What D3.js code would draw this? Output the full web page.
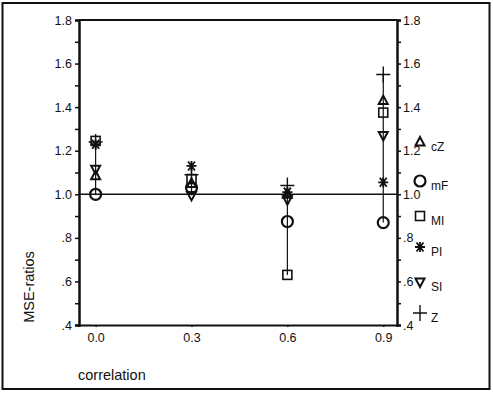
<!DOCTYPE html>
<html>
<head>
<meta charset="utf-8">
<script src="https://cdn.jsdelivr.net/npm/d3@7"></script>
<style>
  body { margin: 0; background: #fff; }
  text { font-family: "Liberation Sans", Arial, sans-serif; fill: #111; }
</style>
</head>
<body>
<div id="chart"></div>
<script>
const correlations = [0.0, 0.3, 0.6, 0.9];
const seriesNames = ['cZ', 'mF', 'MI', 'PI', 'SI', 'Z'];
const cZ = [1.085, 1.05, 1.0, 1.43];
const mF = [1.0, 1.03, 0.875, 0.87];
const MI = [1.245, 1.07, 0.63, 1.375];
const PI = [1.23, 1.13, 1.01, 1.055];
const SI = [1.115, 0.995, 0.975, 1.27];
const Z = [1.24, 1.09, 1.04, 1.55];
const yTicks = [0.4, 0.6, 0.8, 1.0, 1.2, 1.4, 1.6, 1.8];
const yMinor = [0.5, 0.7, 0.9, 1.1, 1.3, 1.5, 1.7];

const seriesValues = { cZ, mF, MI, PI, SI, Z };

const W = 493, H = 393;
const svg = d3.select('#chart').append('svg')
  .attr('width', W).attr('height', H);

// outer frame
svg.append('rect')
  .attr('x', 2.5).attr('y', 3).attr('width', 487).attr('height', 386)
  .attr('fill', 'none').attr('stroke', '#111').attr('stroke-width', 2);

const mLeft = 79, mRight = 397, mTop = 20, mBottom = 325;

const x = d3.scaleLinear().domain([-0.052, 0.943]).range([mLeft, mRight]);
const y = d3.scaleLinear().domain([0.4, 1.8]).range([mBottom, mTop]);

const fmt = v => v >= 1 ? v.toFixed(1) : v.toFixed(1).replace(/^0/, '');

// left axis
svg.append('g').attr('transform', `translate(${mLeft},0)`)
  .call(d3.axisLeft(y).tickValues(yTicks).tickFormat(fmt).tickSize(4).tickPadding(3));
svg.append('g').attr('transform', `translate(${mLeft},0)`)
  .call(d3.axisLeft(y).tickValues(yMinor).tickFormat('').tickSize(4));
// right axis
svg.append('g').attr('transform', `translate(${mRight},0)`)
  .call(d3.axisRight(y).tickValues(yTicks).tickFormat(fmt).tickSize(4).tickPadding(2));
svg.append('g').attr('transform', `translate(${mRight},0)`)
  .call(d3.axisRight(y).tickValues(yMinor).tickFormat('').tickSize(4));
// bottom axis
svg.append('g').attr('transform', `translate(0,${mBottom})`)
  .call(d3.axisBottom(x).tickValues(correlations).tickFormat(d3.format('.1f')).tickSize(2).tickPadding(6));

svg.selectAll('.domain').attr('stroke', '#111').attr('stroke-width', 2);
svg.selectAll('.tick line').attr('stroke', '#111').attr('stroke-width', 1.5);
svg.selectAll('.tick text').attr('font-size', 12.5).attr('font-family', '"Liberation Sans", Arial, sans-serif').attr('fill', '#111');

// top line
svg.append('line').attr('x1', mLeft).attr('x2', mRight).attr('y1', mTop).attr('y2', mTop)
  .attr('stroke', '#111').attr('stroke-width', 2);

// reference line at 1.0
svg.append('line').attr('x1', mLeft).attr('x2', mRight).attr('y1', y(1)).attr('y2', y(1))
  .attr('stroke', '#111').attr('stroke-width', 1.5);

// range lines
correlations.forEach((c, i) => {
  const vals = seriesNames.map(n => seriesValues[n][i]);
  svg.append('line')
    .attr('x1', x(c)).attr('x2', x(c))
    .attr('y1', y(d3.min(vals))).attr('y2', y(d3.max(vals)))
    .attr('stroke', '#111').attr('stroke-width', 1.2);
});

function marker(g, name) {
  const s = '#111';
  if (name === 'cZ') {
    g.append('path').attr('d', 'M0,-5 L4.5,3.5 L-4.5,3.5 Z').attr('fill', 'none').attr('stroke', s).attr('stroke-width', 2);
  } else if (name === 'SI') {
    g.append('path').attr('d', 'M0,5 L4.5,-3.5 L-4.5,-3.5 Z').attr('fill', 'none').attr('stroke', s).attr('stroke-width', 2);
  } else if (name === 'mF') {
    g.append('circle').attr('r', 5.5).attr('fill', 'none').attr('stroke', s).attr('stroke-width', 2.2);
  } else if (name === 'MI') {
    g.append('rect').attr('x', -4.5).attr('y', -4.5).attr('width', 9).attr('height', 9).attr('fill', 'none').attr('stroke', s).attr('stroke-width', 1.6);
  } else if (name === 'PI') {
    g.append('path').attr('d', 'M-5,0 L5,0 M-3.5,-4.5 L3.5,4.5 M3.5,-4.5 L-3.5,4.5 M0,-5 L0,5').attr('stroke', s).attr('stroke-width', 1.8);
  } else if (name === 'Z') {
    g.append('path').attr('d', 'M-7,0 L7,0 M0,-8 L0,8').attr('stroke', s).attr('stroke-width', 1.4);
  }
}

seriesNames.forEach(n => {
  seriesValues[n].forEach((v, i) => {
    const g = svg.append('g').attr('transform', `translate(${x(correlations[i])},${y(v)})`);
    marker(g, n);
  });
});

// legend
const legendY = [142, 181, 216, 247, 282, 313];
seriesNames.forEach((n, i) => {
  const g = svg.append('g').attr('transform', `translate(420,${legendY[i]})`);
  marker(g, n);
  g.append('text').attr('x', 11).attr('y', 9).attr('font-size', 12).text(n);
});

// axis titles
svg.append('text').attr('x', 78).attr('y', 380).attr('font-size', 14.5).text('correlation');
svg.append('text').attr('transform', 'translate(34,287) rotate(-90)')
  .attr('text-anchor', 'middle').attr('font-size', 14.5).text('MSE-ratios');
</script>
</body>
</html>
